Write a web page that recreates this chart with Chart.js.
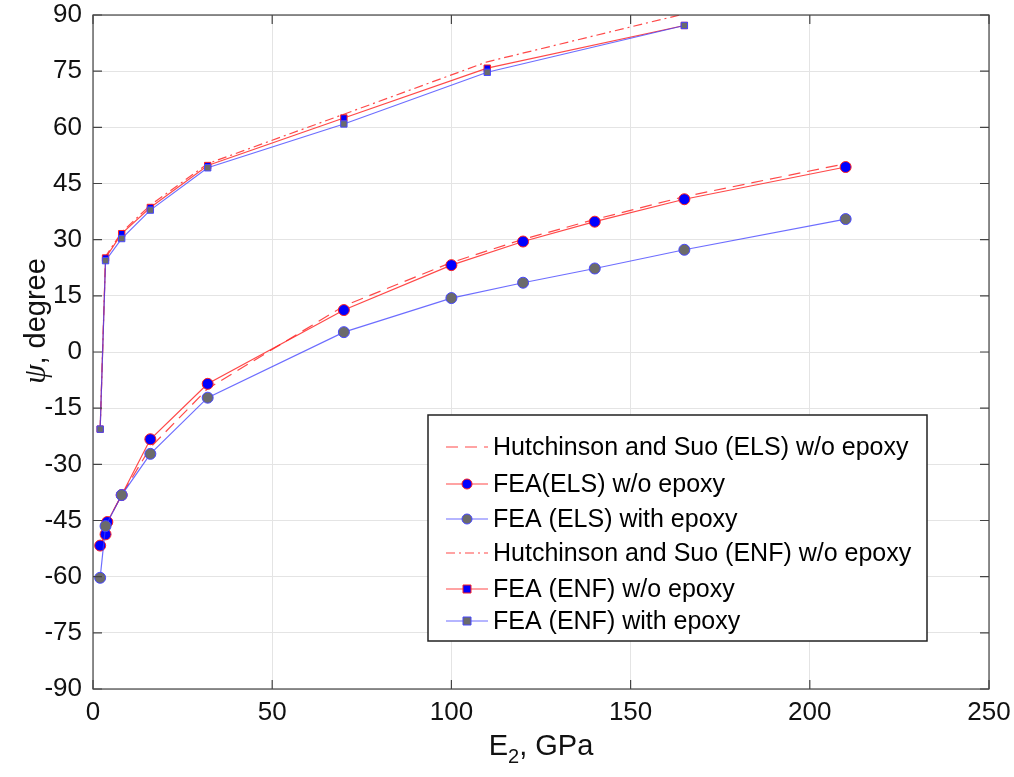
<!DOCTYPE html>
<html>
<head>
<meta charset="utf-8">
<script src="https://cdn.jsdelivr.net/npm/chart.js@4"></script>
<style>
  body { margin: 0; background: #fff; }
  #wrap { width: 1014px; height: 777px; }
</style>
</head>
<body>
<div id="wrap"><canvas id="graph" width="1014" height="777"></canvas></div>
<script>
// E2 values (GPa) and mode-mixity angle psi (degrees)
const elsE = [2, 3.5, 4, 8, 16, 32, 70, 100, 120, 140, 165, 210];
const elsTheory = [-51.7, -48.7, -45.4, -38.2, -25.5, -9.8, 12.3, 23.9, 30.1, 35.4, 41.5, 50.3];
const elsFea = [-51.7, -48.7, -45.4, -38.2, -23.3, -8.5, 11.2, 23.2, 29.5, 34.8, 40.8, 49.4];
const elsEpoxyE = [2, 3.5, 8, 16, 32, 70, 100, 120, 140, 165, 210];
const elsEpoxy = [-60.3, -46.5, -38.2, -27.2, -12.2, 5.3, 14.4, 18.5, 22.3, 27.3, 35.5];

const enfE = [2, 3.5, 8, 16, 32, 70, 110, 165];
const enfTheory = [-20.6, 25.5, 32.0, 39.2, 50.3, 63.5, 77.5, 90.3];
const enfFea = [-20.6, 25.1, 31.6, 38.6, 49.8, 62.5, 75.8, 87.2];
const enfEpoxy = [-20.6, 24.4, 30.3, 37.9, 49.2, 60.9, 74.7, 87.2];

const xTicks = [0, 50, 100, 150, 200, 250];
const yTicks = [-90, -75, -60, -45, -30, -15, 0, 15, 30, 45, 60, 75, 90];

const labels = [
  'Hutchinson and Suo (ELS) w/o epoxy',
  'FEA(ELS) w/o epoxy',
  'FEA (ELS) with epoxy',
  'Hutchinson and Suo (ENF) w/o epoxy',
  'FEA (ENF) w/o epoxy',
  'FEA (ENF) with epoxy'
];

const RED = 'rgba(255,40,40,0.85)';
const BLUE = 'rgba(60,60,255,0.75)';
const FONT = '"Liberation Sans", Arial, Helvetica, sans-serif';
const SERIF = '"Liberation Serif", "DejaVu Serif", serif';

function pts(xs, ys) { return xs.map((x, i) => ({ x: x, y: ys[i] })); }

let datasets = [
  { label: labels[0], data: pts(elsE, elsTheory), borderColor: RED, borderWidth: 1.2,
    borderDash: [12, 7], pointRadius: 0, order: 3 },
  { label: labels[1], data: pts(elsE, elsFea), borderColor: RED, borderWidth: 1.2,
    pointStyle: 'circle', pointRadius: 5.5, pointBackgroundColor: '#0000ff',
    pointBorderColor: '#ff2020', pointBorderWidth: 1, order: 2 },
  { label: labels[2], data: pts(elsEpoxyE, elsEpoxy), borderColor: BLUE, borderWidth: 1.2,
    pointStyle: 'circle', pointRadius: 5.5, pointBackgroundColor: '#6b6b6b',
    pointBorderColor: '#4848ff', pointBorderWidth: 1, order: 1 },
  { label: labels[3], data: pts(enfE, enfTheory), borderColor: RED, borderWidth: 1.2,
    borderDash: [9, 4, 2, 4], pointRadius: 0, order: 3 },
  { label: labels[4], data: pts(enfE, enfFea), borderColor: RED, borderWidth: 1.2,
    pointStyle: 'rect', pointRadius: 4.5, pointBackgroundColor: '#0000ff',
    pointBorderColor: '#ff2020', pointBorderWidth: 1, order: 2 },
  { label: labels[5], data: pts(enfE, enfEpoxy), borderColor: BLUE, borderWidth: 1.2,
    pointStyle: 'rect', pointRadius: 4.5, pointBackgroundColor: '#6b6b6b',
    pointBorderColor: '#4848ff', pointBorderWidth: 1, order: 1 }
];
datasets.forEach(d => { d.fill = false; d.tension = 0; d.showLine = true; });

// box outline, inward ticks, axis titles and the boxed legend
const frame = {
  id: 'frame',
  afterDraw(chart) {
    const c = chart.ctx, a = chart.chartArea;
    const xs = chart.scales.x, ys = chart.scales.y;
    c.save();
    c.strokeStyle = '#444';
    c.lineWidth = 1.2;
    c.strokeRect(a.left, a.top, a.right - a.left, a.bottom - a.top);
    c.beginPath();
    xTicks.forEach(t => {
      const px = xs.getPixelForValue(t);
      c.moveTo(px, a.bottom); c.lineTo(px, a.bottom - 9);
      c.moveTo(px, a.top); c.lineTo(px, a.top + 9);
    });
    yTicks.forEach(t => {
      const py = ys.getPixelForValue(t);
      c.moveTo(a.left, py); c.lineTo(a.left + 9, py);
      c.moveTo(a.right, py); c.lineTo(a.right - 9, py);
    });
    c.stroke();

    // x title with subscript
    c.fillStyle = '#111';
    c.textBaseline = 'alphabetic';
    c.font = '29px ' + FONT;
    const wE = c.measureText('E').width;
    c.font = '20px ' + FONT;
    const w2 = c.measureText('2').width;
    c.font = '29px ' + FONT;
    const wRest = c.measureText(', GPa').width;
    let x0 = (a.left + a.right) / 2 - (wE + w2 + wRest) / 2;
    const base = 755;
    c.textAlign = 'left';
    c.fillText('E', x0, base);
    c.font = '20px ' + FONT;
    c.fillText('2', x0 + wE, base + 8);
    c.font = '29px ' + FONT;
    c.fillText(', GPa', x0 + wE + w2, base);

    // y title, rotated
    c.save();
    c.translate(45, 321);
    c.rotate(-Math.PI / 2);
    c.font = 'italic 31px ' + SERIF;
    const wPsi = c.measureText('\u03c8').width;
    c.font = '29px ' + FONT;
    const wDeg = c.measureText(', degree').width;
    let y0 = -(wPsi + wDeg) / 2;
    c.font = 'italic 31px ' + SERIF;
    c.fillText('\u03c8', y0, 0);
    c.font = '29px ' + FONT;
    c.fillText(', degree', y0 + wPsi, 0);
    c.restore();

    // legend
    const L = 428, T = 415, R = 927, B = 641;
    c.fillStyle = '#fff';
    c.fillRect(L, T, R - L, B - T);
    c.strokeStyle = '#222';
    c.lineWidth = 1.5;
    c.strokeRect(L, T, R - L, B - T);
    const rows = [447, 484, 519, 553, 589, 621];
    c.font = '25px ' + FONT;
    c.textBaseline = 'middle';
    datasets.forEach((d, i) => {
      const y = rows[i];
      c.save();
      c.strokeStyle = d.borderColor;
      c.lineWidth = 1.2;
      c.setLineDash(d.borderDash || []);
      c.beginPath();
      c.moveTo(446, y); c.lineTo(488, y);
      c.stroke();
      c.restore();
      if (d.pointRadius) {
        c.save();
        c.fillStyle = d.pointBackgroundColor;
        c.strokeStyle = d.pointBorderColor;
        c.lineWidth = 1;
        c.beginPath();
        if (d.pointStyle === 'circle') {
          c.arc(467, y, 5, 0, Math.PI * 2);
        } else {
          c.rect(463, y - 4, 8, 8);
        }
        c.fill(); c.stroke();
        c.restore();
      }
      c.fillStyle = '#000';
      c.fillText(d.label, 493, y + 1);
    });
    c.restore();
  }
};

let ctx = document.getElementById('graph').getContext('2d');
let chart = new Chart(ctx, {
  type: 'line',
  data: { datasets: datasets },
  options: {
    responsive: false,
    animation: false,
    layout: { padding: { top: 15, right: 25, left: 0, bottom: 0 } },
    plugins: { legend: { display: false }, tooltip: { enabled: false } },
    scales: {
      x: {
        type: 'linear', min: 0, max: 250,
        afterFit(s) { s.height = 88; s.paddingLeft = 0; s.paddingRight = 0; },
        afterBuildTicks(s) { s.ticks = xTicks.map(v => ({ value: v })); },
        grid: { color: '#e4e4e4', drawTicks: false },
        border: { display: false },
        ticks: { color: '#111', padding: 8, font: { size: 26, family: FONT } }
      },
      y: {
        type: 'linear', min: -90, max: 90,
        afterFit(s) { s.width = 93; s.paddingTop = 0; s.paddingBottom = 0; },
        afterBuildTicks(s) { s.ticks = yTicks.map(v => ({ value: v })); },
        grid: { color: '#e4e4e4', drawTicks: false },
        border: { display: false },
        ticks: { color: '#111', padding: 11, font: { size: 26, family: FONT } }
      }
    }
  },
  plugins: [frame]
});
</script>
</body>
</html>
